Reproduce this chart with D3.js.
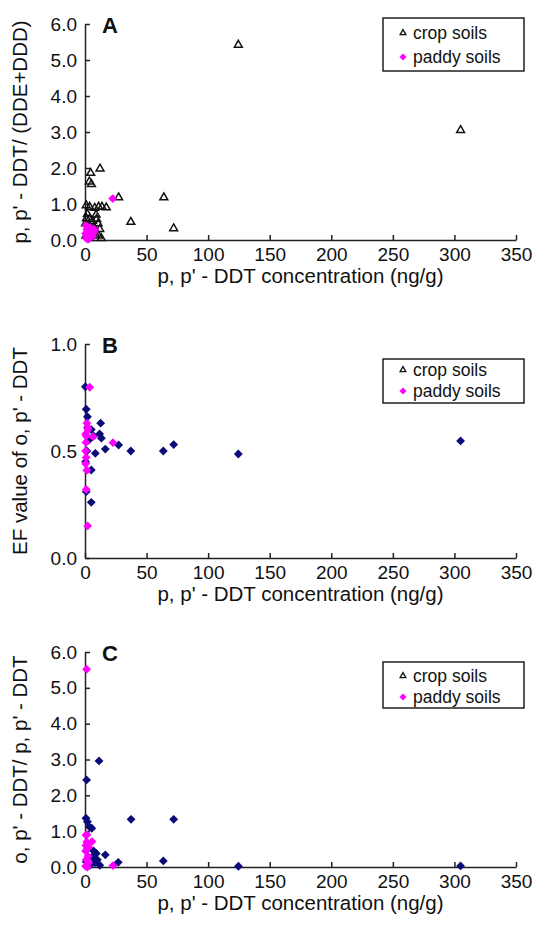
<!DOCTYPE html>
<html><head><meta charset="utf-8">
<script src="https://cdn.jsdelivr.net/npm/d3@7/dist/d3.min.js"></script>
<style>
html,body{margin:0;padding:0;background:#fff;}
svg text{font-family:"Liberation Sans",Arial,Helvetica,sans-serif;}
</style></head>
<body><svg id="chart" width="534" height="927"></svg>
<script>
// ---------------- DATA ----------------
const xTicks = [0, 50, 100, 150, 200, 250, 300, 350];
const yTicksA = [0, 1, 2, 3, 4, 5, 6];
const yTicksB = [0, 0.5, 1.0];
const yTicksC = [0, 1, 2, 3, 4, 5, 6];
const seriesNames = ["crop soils", "paddy soils"];

// Panel A: p,p'-DDT vs p,p'-DDT/(DDE+DDD)
const cropA = [[124.5,5.42],[305,3.05],[64,1.18],[27.3,1.18],[37.2,0.50],[72,0.32],[12.2,1.98],[4.6,1.86],[3.5,1.62],[5.2,1.55],
  [3.8,0.92],[7.9,0.89],[11.1,0.92],[13.8,0.92],[17.3,0.90],[1.0,0.96],[2.0,0.72],[1.2,0.60],[3.6,0.58],[6.2,0.52],
  [9.4,0.58],[10.6,0.46],[3.0,0.42],[7.2,0.36],[12.0,0.30],[2.0,0.26],[5.0,0.22],[8.4,0.16],[11.0,0.12],[13.2,0.05],
  [0.8,0.12],[4.2,0.05],[0.5,0.46],[9.0,0.70]];
const paddyA = [[22.5,1.15],[1.0,0.05],[2.0,0.10],[3.0,0.16],[4.0,0.20],[5.0,0.25],[1.5,0.30],[6.0,0.10],[8.0,0.28],
  [2.5,0.02],[3.5,0.06],[0.5,0.18],[7.0,0.20],[4.5,0.34],[1.0,0.40]];

// Panel B: EF value of o,p'-DDT
const cropB = [[0.3,0.80],[1.0,0.695],[12.7,0.63],[2.0,0.61],[5.1,0.60],[11.9,0.58],[13.3,0.56],[27.3,0.528],[16.5,0.509],
  [37.2,0.50],[63.6,0.50],[72,0.53],[124.5,0.486],[305,0.547],[8.4,0.489],[5.1,0.411],[1.0,0.31],[5.1,0.26],[3.0,0.55],
  [1.5,0.50],[7.0,0.57],[0.5,0.45],[2.0,0.66]];
const paddyB = [[3.8,0.798],[1.5,0.63],[2.2,0.61],[6.5,0.567],[1.0,0.57],[22.7,0.539],[0.8,0.54],[0.5,0.50],[1.0,0.47],
  [0.5,0.44],[1.5,0.41],[1.0,0.32],[2.2,0.15],[2.5,0.60],[0.5,0.58]];

// Panel C: o,p'-DDT / p,p'-DDT
const cropC = [[11.4,2.96],[1.3,2.43],[37.4,1.33],[72,1.33],[0.8,1.36],[2.0,1.26],[3.5,1.12],[5.5,1.08],[9.2,0.38],
  [16.5,0.34],[27.0,0.13],[63.6,0.17],[124.6,0.02],[305,0.03],[6.0,0.28],[10.0,0.20],[8.0,0.12],[12.0,0.05],[4.0,0.05],
  [2.0,0.50],[1.0,0.15],[7.0,0.45]];
const paddyC = [[1.3,5.52],[0.8,0.89],[5.7,0.71],[1.5,0.70],[3.0,0.55],[0.5,0.45],[2.5,0.30],[1.0,0.20],[3.0,0.12],
  [0.5,0.02],[22.7,0.04],[2.0,0.0],[1.5,0.90],[0.7,0.60]];

const xTitle = "p, p' - DDT concentration (ng/g)";
const panels = [
  {label:"A", yTitle:"p, p' - DDT/ (DDE+DDD)", yMax:6, yTicks:yTicksA, crop:cropA, paddy:paddyA, cropStyle:"triangle",
   top:24, bottom:240, legend:{x:383,y:18,w:141,h:53,r1:33,r2:57}},
  {label:"B", yTitle:"EF value of o, p' - DDT", yMax:1, yTicks:yTicksB, crop:cropB, paddy:paddyB, cropStyle:"navy",
   top:344, bottom:558, legend:{x:383,y:359,w:141,h:44,r1:370,r2:391}},
  {label:"C", yTitle:"o, p' - DDT/ p, p' - DDT", yMax:6, yTicks:yTicksC, crop:cropC, paddy:paddyC, cropStyle:"navy",
   top:652, bottom:867, legend:{x:383,y:662,w:141,h:46,r1:676,r2:697}}
];

// ---------------- DRAW ----------------
const svg = d3.select("#chart");
const left = 85, right = 516;
const magenta = "#ff00ff", navy = "#0a0a78";
const tickFs = 19, titleFs = 20.5, legFs = 17.5;
const diamond = d3.symbol().type(d3.symbolDiamond2 || d3.symbolDiamond).size(50);
const tri = d3.symbol().type(d3.symbolTriangle2 || d3.symbolTriangle).size(44);

panels.forEach(p => {
  const x = d3.scaleLinear().domain([0, 350]).range([left, right]);
  const y = d3.scaleLinear().domain([0, p.yMax]).range([p.bottom, p.top]);
  const g = svg.append("g");

  const xa = g.append("g").attr("transform", `translate(0,${p.bottom})`)
    .call(d3.axisBottom(x).tickValues(xTicks).tickSizeInner(-5).tickSizeOuter(0).tickPadding(8).tickFormat(d3.format("d")));
  const ya = g.append("g").attr("transform", `translate(${left},0)`)
    .call(d3.axisLeft(y).tickValues(p.yTicks).tickSizeInner(-5).tickSizeOuter(0).tickPadding(8).tickFormat(d3.format(".1f")));
  [xa, ya].forEach(a => {
    a.select(".domain").attr("stroke", "#222").attr("stroke-width", 1.5);
    a.selectAll(".tick line").attr("stroke", "#222").attr("stroke-width", 1.5);
    a.selectAll(".tick text").attr("font-size", tickFs).attr("fill", "#111")
      .style("font-family", '"Liberation Sans",Arial,sans-serif');
  });

  g.append("text").attr("x", (left + right) / 2).attr("y", p.bottom + 43)
    .attr("text-anchor", "middle").attr("font-size", titleFs).attr("fill", "#111").text(xTitle);
  g.append("text").attr("transform", `translate(27,${(p.top + p.bottom) / 2}) rotate(-90)`)
    .attr("text-anchor", "middle").attr("font-size", titleFs).attr("fill", "#111").text(p.yTitle);
  g.append("text").attr("x", 102).attr("y", p.top + 9).attr("font-size", 22).attr("font-weight", "bold")
    .attr("fill", "#111").text(p.label);

  // crop soils
  if (p.cropStyle === "triangle") {
    g.append("g").selectAll("path").data(p.crop).join("path")
      .attr("d", tri).attr("transform", d => `translate(${x(d[0])},${y(d[1])})`)
      .attr("fill", "none").attr("stroke", "#111").attr("stroke-width", 1.5);
  } else {
    g.append("g").selectAll("path").data(p.crop).join("path")
      .attr("d", diamond).attr("transform", d => `translate(${x(d[0])},${y(d[1])})`)
      .attr("fill", navy);
  }
  // paddy soils
  g.append("g").selectAll("path").data(p.paddy).join("path")
    .attr("d", diamond).attr("transform", d => `translate(${x(d[0])},${y(d[1])})`)
    .attr("fill", magenta);

  // legend
  const L = p.legend;
  const lg = g.append("g");
  lg.append("rect").attr("x", L.x).attr("y", L.y).attr("width", L.w).attr("height", L.h)
    .attr("fill", "#fff").attr("stroke", "#111").attr("stroke-width", 1.4);
  lg.append("path").attr("d", d3.symbol().type(d3.symbolTriangle2 || d3.symbolTriangle).size(24)())
    .attr("transform", `translate(${L.x + 20},${L.r1})`).attr("fill", "none").attr("stroke", "#111").attr("stroke-width", 1.3);
  lg.append("path").attr("d", d3.symbol().type(d3.symbolDiamond2 || d3.symbolDiamond).size(32)())
    .attr("transform", `translate(${L.x + 20},${L.r2})`).attr("fill", magenta);
  lg.append("text").attr("x", L.x + 30).attr("y", L.r1).attr("dy", "0.35em").attr("font-size", legFs)
    .attr("fill", "#111").text(seriesNames[0]);
  lg.append("text").attr("x", L.x + 30).attr("y", L.r2).attr("dy", "0.35em").attr("font-size", legFs)
    .attr("fill", "#111").text(seriesNames[1]);
});
</script></body></html>
